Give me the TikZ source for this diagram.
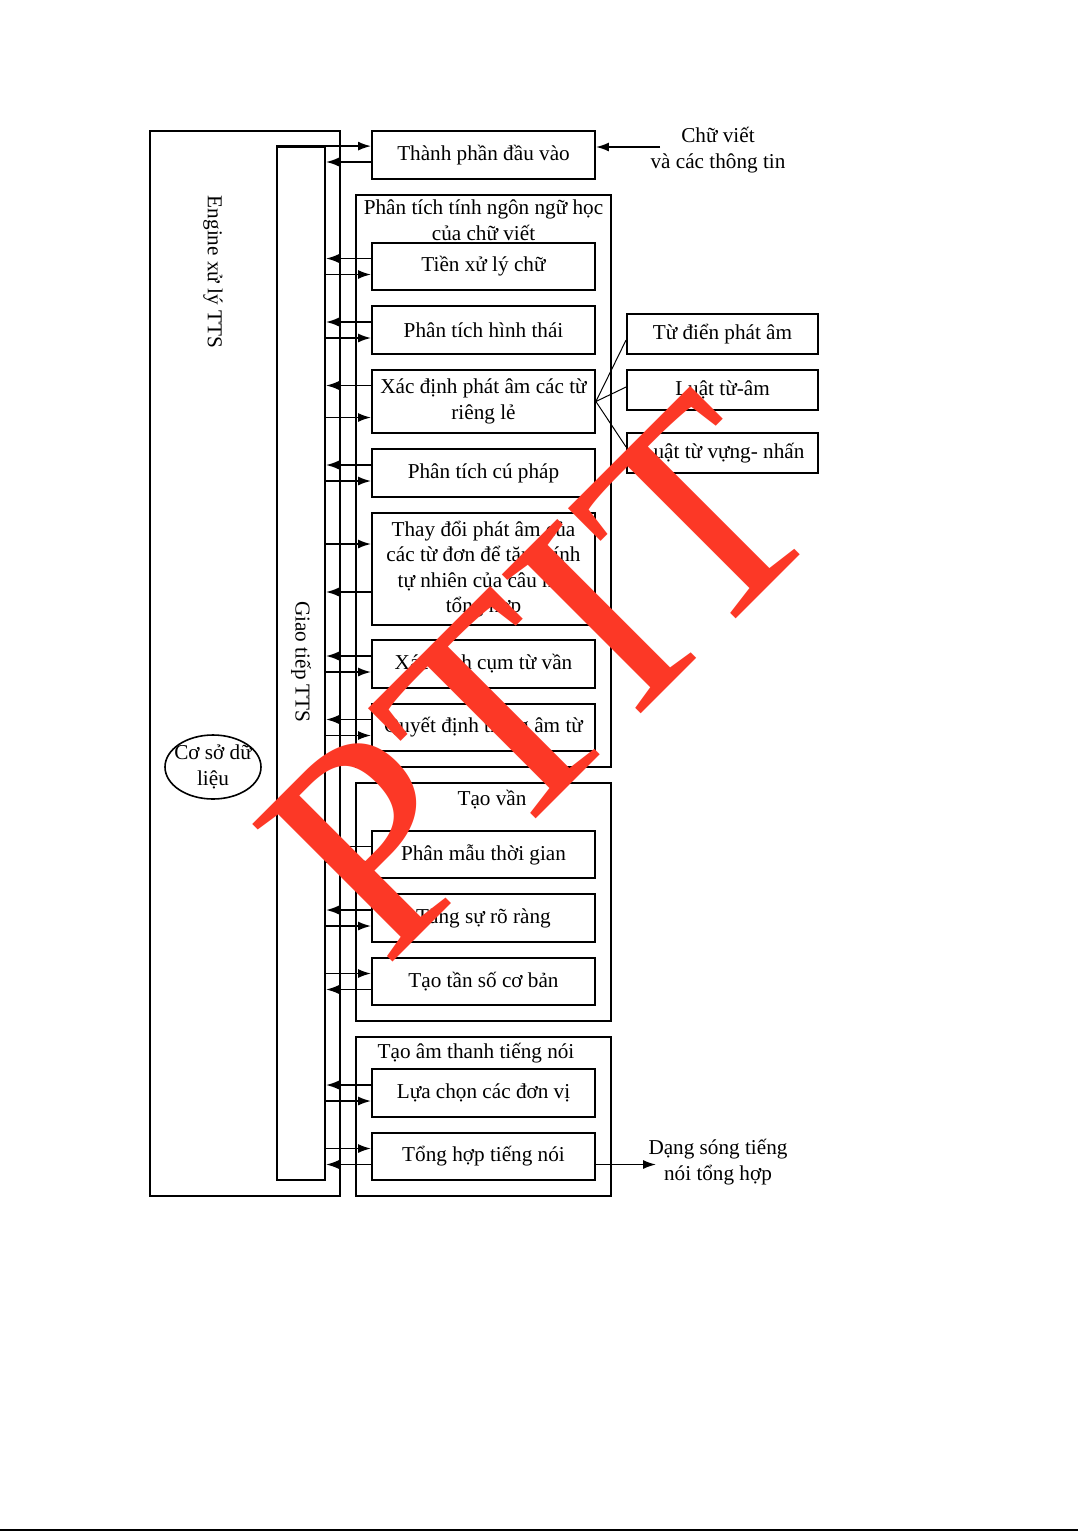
\documentclass[tikz,border=0pt]{standalone}
\usepackage{fontspec}
\setmainfont{Liberation Serif}
\newfontfamily\ptitfont{Liberation Serif}
\usetikzlibrary{arrows.meta,shapes.geometric}
\definecolor{doPTIT}{RGB}{252,56,38}
\tikzset{
  khoi/.style={draw,line width=0.9pt,minimum width=111.5pt,minimum height=24pt,align=center,inner sep=1pt},
  nhom/.style={draw,line width=0.9pt,minimum width=127.5pt,inner sep=0pt},
  phu/.style={draw,line width=0.9pt,minimum width=95.5pt,minimum height=20pt,inner sep=1pt},
  noi/.style={line width=0.9pt,->},
  chu/.style={align=center,inner sep=0pt}
}
\begin{document}
\begin{tikzpicture}[x=0.5pt,y=-0.5pt,>={Latex[length=6.5pt,width=4.5pt]},font=\fontsize{10.6}{12.8}\selectfont]
  \fill[white] (0,0) rectangle (1078,1532);
  \useasboundingbox (0,0) rectangle (1078,1532);

  % engine va giao tiep
  \node[draw,line width=0.9pt,minimum width=95pt,minimum height=532.5pt,inner sep=0pt] (engine) at (245,663.5) {};
  \node[rotate=-90] (engineten) at (213,272) {Engine xử lý TTS};
  \node[draw,line width=0.9pt,minimum width=24pt,minimum height=516.5pt,inner sep=0pt] (giaotiep) at (301,663.5) {};
  \node[rotate=-90] (giaotiepten) at (301,662) {Giao tiếp TTS};
  \node[draw,ellipse,line width=0.8pt,minimum width=48pt,minimum height=32pt] (csdl) at (213,767) {};
  \node[chu] (csdlten) at (csdl) {Cơ sở dữ\\liệu};

  % cac nhom
  \node[nhom,minimum height=286pt] (nhom1) at (483.5,481) {};
  \node[chu] (ten1) at (483.5,220) {Phân tích tính ngôn ngữ học\\của chữ viết};
  \node[nhom,minimum height=119pt] (nhom2) at (483.5,902) {};
  \node[chu] (ten2) at (492,800) {Tạo vần};
  \node[nhom,minimum height=79.5pt] (nhom3) at (483.5,1116.5) {};
  \node[chu] (ten3) at (476,1053) {Tạo âm thanh tiếng nói};

  % cac khoi
  \node[khoi] (dauvao) at (483.5,155) {Thành phần đầu vào};
  \node[khoi,minimum height=23.5pt] (tienxuly) at (483.5,266.5) {Tiền xử lý chữ};
  \node[khoi] (hinhthai) at (483.5,330) {Phân tích hình thái};
  \node[khoi,minimum height=31.5pt] (phatam) at (483.5,401.5) {Xác định phát âm các từ\\riêng lẻ};
  \node[khoi] (cuphap) at (483.5,473) {Phân tích cú pháp};
  \node[khoi,minimum height=56pt] (thaydoi) at (483.5,569) {Thay đổi phát âm của\\các từ đơn để tăng tính\\tự nhiên của câu nói\\tổng hợp};
  \node[khoi] (cumtu) at (483.5,664) {Xác định cụm từ vần};
  \node[khoi,minimum height=23.5pt] (trongam) at (483.5,727.5) {Quyết định trọng âm từ};
  \node[khoi,minimum height=23.5pt] (thoigian) at (483.5,854.5) {Phân mẫu thời gian};
  \node[khoi] (rorang) at (483.5,918) {Tăng sự rõ ràng};
  \node[khoi,minimum height=23.5pt] (tanso) at (483.5,981.5) {Tạo tần số cơ bản};
  \node[khoi] (donvi) at (483.5,1093) {Lựa chọn các đơn vị};
  \node[khoi,minimum height=23.5pt] (tonghop) at (483.5,1156.5) {Tổng hợp tiếng nói};

  \node[phu] (tudien) at (722.5,334) {Từ điển phát âm};
  \node[phu] (luattuam) at (722.5,390) {Luật từ-âm};
  \node[phu] (luatnhan) at (722.5,453) {Luật từ vựng- nhấn};

  \node[chu] (chuviet) at (718,150) {Chữ viết\\và các thông tin};
  \node[chu] (dangsong) at (718,1162) {Dạng sóng tiếng\\nói tổng hợp};

  % mui ten vao ra
  \draw[noi] ([xshift=5pt,yshift=4pt]dauvao.east -| chuviet.west) -- ([yshift=4pt]dauvao.east);
  \draw[noi] (giaotiep.north west) -- (giaotiep.north west -| dauvao.west);
  \draw[noi] ([yshift=-3.5pt]dauvao.west) -- ([yshift=-3.5pt]dauvao.west -| giaotiep.east);

  \draw[noi] ([yshift=4pt]tienxuly.west) -- ([yshift=4pt]tienxuly.west -| giaotiep.east);
  \draw[noi] ([yshift=-4pt]tienxuly.west -| giaotiep.east) -- ([yshift=-4pt]tienxuly.west);
  \draw[noi] ([yshift=4pt]hinhthai.west) -- ([yshift=4pt]hinhthai.west -| giaotiep.east);
  \draw[noi] ([yshift=-4pt]hinhthai.west -| giaotiep.east) -- ([yshift=-4pt]hinhthai.west);
  \draw[noi] ([yshift=8pt]phatam.west) -- ([yshift=8pt]phatam.west -| giaotiep.east);
  \draw[noi] ([yshift=-8pt]phatam.west -| giaotiep.east) -- ([yshift=-8pt]phatam.west);
  \draw[noi] ([yshift=4pt]cuphap.west) -- ([yshift=4pt]cuphap.west -| giaotiep.east);
  \draw[noi] ([yshift=-4pt]cuphap.west -| giaotiep.east) -- ([yshift=-4pt]cuphap.west);
  \draw[noi] ([yshift=12.5pt]thaydoi.west -| giaotiep.east) -- ([yshift=12.5pt]thaydoi.west);
  \draw[noi] ([yshift=-11.5pt]thaydoi.west) -- ([yshift=-11.5pt]thaydoi.west -| giaotiep.east);
  \draw[noi] ([yshift=4pt]cumtu.west) -- ([yshift=4pt]cumtu.west -| giaotiep.east);
  \draw[noi] ([yshift=-4pt]cumtu.west -| giaotiep.east) -- ([yshift=-4pt]cumtu.west);
  \draw[noi] ([yshift=4pt]trongam.west) -- ([yshift=4pt]trongam.west -| giaotiep.east);
  \draw[noi] ([yshift=-4pt]trongam.west -| giaotiep.east) -- ([yshift=-4pt]trongam.west);

  \draw[noi] ([yshift=4pt]thoigian.west) -- ([yshift=4pt]thoigian.west -| giaotiep.east);
  \draw[noi] ([yshift=-4pt]thoigian.west -| giaotiep.east) -- ([yshift=-4pt]thoigian.west);
  \draw[noi] ([yshift=4pt]rorang.west) -- ([yshift=4pt]rorang.west -| giaotiep.east);
  \draw[noi] ([yshift=-4pt]rorang.west -| giaotiep.east) -- ([yshift=-4pt]rorang.west);
  \draw[noi] ([yshift=4pt]tanso.west -| giaotiep.east) -- ([yshift=4pt]tanso.west);
  \draw[noi] ([yshift=-4pt]tanso.west) -- ([yshift=-4pt]tanso.west -| giaotiep.east);

  \draw[noi] ([yshift=4pt]donvi.west) -- ([yshift=4pt]donvi.west -| giaotiep.east);
  \draw[noi] ([yshift=-4pt]donvi.west -| giaotiep.east) -- ([yshift=-4pt]donvi.west);
  \draw[noi] ([yshift=4pt]tonghop.west -| giaotiep.east) -- ([yshift=4pt]tonghop.west);
  \draw[noi] ([yshift=-4pt]tonghop.west) -- ([yshift=-4pt]tonghop.west -| giaotiep.east);
  \draw[noi] ([yshift=-4pt]tonghop.east) -- ([xshift=4pt,yshift=-4pt]tonghop.east -| dangsong.west);

  % tu dien va luat
  \draw[line width=0.5pt] (phatam.east) -- ([yshift=-3pt]tudien.west);
  \draw[line width=0.5pt] (phatam.east) -- ([yshift=1.5pt]luattuam.west);
  \draw[line width=0.5pt] (phatam.east) -- ([yshift=3pt]luatnhan.west);

  % dau
  \node[rotate=45,text=doPTIT,inner sep=0pt,font=\ptitfont\fontsize{150}{150}\selectfont] (ptit) at (540,676) {PTIT};

  \draw[line width=1.2pt] (0,1530) -- (1078,1530);
\end{tikzpicture}
\end{document}
